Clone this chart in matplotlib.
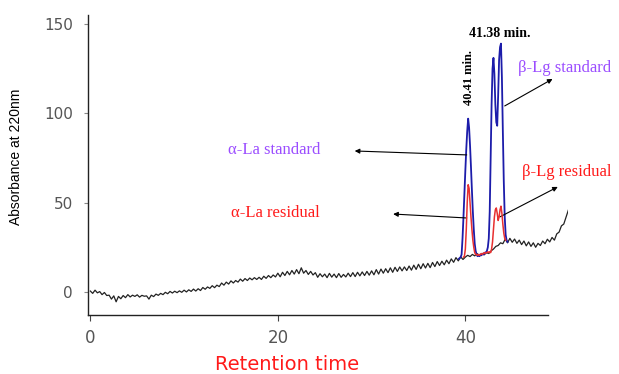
import numpy as np
import matplotlib
matplotlib.use('Agg')
import matplotlib.pyplot as plt

# ── DATA ─────────────────────────────────────────────────
# baseline trace, 0 → 51 min every 0.25 min
base_t = np.linspace(0, 51, 205)
base_y = [
    0.5, -0.8, 1.0, -0.5, 0.2, -1.5, -0.3, -2.0,
    -1.8, -4.0, -2.2, -5.5, -2.5, -3.8, -2.0, -3.2,
    -1.5, -2.8, -1.8, -2.5, -1.6, -2.9, -1.9, -2.4,
    -2.2, -4.0, -1.8, -2.6, -1.2, -1.9, -0.8, -1.5,
    -0.2, -1.0, 0.3, -0.6, 0.4, -0.4, 0.6, -0.2,
    1.0, 0.0, 1.2, 0.3, 1.6, 0.5, 1.8, 0.8,
    2.5, 1.5, 2.8, 2.0, 3.5, 2.4, 3.8, 3.0,
    5.0, 3.8, 5.5, 4.4, 6.2, 5.0, 6.4, 5.5,
    7.2, 6.0, 7.5, 6.4, 7.8, 6.8, 8.0, 7.0,
    8.2, 7.0, 8.8, 7.6, 9.2, 8.0, 9.5, 8.4,
    10.5, 8.5, 11.0, 9.2, 11.5, 9.6, 12.0, 10.0,
    12.5, 10.2, 13.5, 10.5, 12.0, 9.8, 11.5, 9.5,
    10.8, 8.2, 10.2, 8.5, 10.0, 8.0, 10.4, 8.3,
    10.0, 8.0, 10.3, 8.2, 9.8, 8.4, 10.5, 8.6,
    10.8, 8.6, 11.0, 9.0, 11.2, 9.2, 11.5, 9.4,
    11.8, 9.6, 12.5, 10.0, 12.8, 10.5, 13.0, 10.8,
    13.5, 11.0, 13.8, 11.5, 14.0, 11.8, 14.0, 12.0,
    14.5, 12.2, 15.0, 12.6, 15.5, 13.0, 15.8, 13.4,
    16.0, 13.6, 16.5, 14.2, 17.0, 14.8, 17.2, 15.2,
    17.8, 15.8, 18.5, 16.6, 19.2, 17.4, 19.6, 18.2,
    19.5, 20.5, 19.8, 21.0, 20.2, 21.5, 20.0, 21.2,
    20.8, 22.0, 21.5, 23.0, 24.0, 25.5, 26.0, 27.5,
    27.0, 29.5, 27.5, 30.0, 27.8, 29.6, 27.2, 29.0,
    26.5, 28.5, 25.8, 28.0, 25.5, 27.5, 25.0, 27.2,
    26.0, 28.5, 27.0, 29.5, 28.0, 30.5, 29.0, 32.5,
    33.5, 37.0, 38.0, 42.0, 46.0,
]

# standards (blue), 39.3 → 44.5 min every 0.1 min
std_t = np.linspace(39.3, 44.5, 53)
std_y = [
    18.5, 19, 19.5, 21, 30, 42, 55, 68, 80, 90,
    97, 92, 82, 70, 57, 45, 35, 27, 23, 21,
    20, 20.5, 20, 21, 20.5, 21, 21.5, 21, 22, 22,
    23, 25, 30, 45, 75, 105, 125, 131, 122, 105,
    95, 93, 110, 130, 137, 139, 120, 90, 62, 42,
    32, 29, 28,
]

# residuals (red), 39.8 → 44.3 min every 0.1 min
res_t = np.linspace(39.8, 44.3, 46)
res_y = [
    19.5, 20, 24, 35, 50, 60, 58, 50, 42, 35,
    29, 25, 22, 21, 21, 20.5, 21, 20.5, 21, 21.5,
    21, 21.5, 22, 21.5, 22, 22, 22.5, 22, 22.5, 22,
    24, 28, 35, 42, 46, 47, 44, 40, 42, 46,
    48, 44, 38, 33, 30, 29,
]

y_ticks = [0, 50, 100, 150]
x_ticks = [0, 20, 40]

PURPLE = '#9b4dff'
RED = '#ff1a1a'

fig = plt.figure(figsize=(6.19, 3.74), dpi=100, facecolor='white')
ax = fig.add_axes([88 / 619, 1 - 315 / 374, 480 / 619, 300 / 374])
ax.set_facecolor('white')

ax.plot(base_t, base_y, color='#222222', lw=0.9, zorder=2)
ax.plot(std_t, std_y, color='#1c1caa', lw=1.3, zorder=3)
ax.plot(res_t, res_y, color='#e83030', lw=1.1, zorder=4)

ax.set_xlim(-0.25, 50.95)
ax.set_ylim(-12.9, 155)

for s in ['top', 'right']:
    ax.spines[s].set_visible(False)
ax.spines['bottom'].set_bounds(-0.25, 48.8)
for s in ['left', 'bottom']:
    ax.spines[s].set_color('#222222')
    ax.spines[s].set_linewidth(1.0)

ax.set_xticks(x_ticks)
ax.set_yticks(y_ticks)
ax.tick_params(axis='y', length=3, width=0.8, color='#888888', pad=8,
               labelsize=11, labelcolor='#555555')
ax.tick_params(axis='x', length=4, width=0.8, color='#444444', pad=6,
               labelsize=12, labelcolor='#555555')

ax.set_ylabel('Absorbance at 220nm', fontsize=10,
              family=['Liberation Sans Narrow', 'Liberation Sans'])
ax.yaxis.set_label_coords(-0.135, 0.527)
fig.text(287 / 619, 4 / 374, 'Retention time', fontsize=14, color=RED,
         ha='center', va='baseline')

serif = 'Liberation Serif'
ax.text(43.67, 144.9, '41.38 min.', fontsize=10, fontweight='bold',
        family=serif, ha='center', va='center', clip_on=False)
ax.text(40.37, 119.8, '40.41 min.', fontsize=9, fontweight='bold',
        family=serif, ha='center', va='center', rotation=90)

ax.text(45.6, 125.3, '\u03b2-Lg standard', fontsize=12, color=PURPLE,
        family=serif, ha='left', va='center', clip_on=False)
ax.text(46.0, 67.2, '\u03b2-Lg residual', fontsize=12, color=RED,
        family=serif, ha='left', va='center', clip_on=False)
ax.text(14.7, 79.5, '\u03b1-La standard', fontsize=12, color=PURPLE,
        family=serif, ha='left', va='center')
ax.text(15.0, 44.2, '\u03b1-La residual', fontsize=12, color=RED,
        family=serif, ha='left', va='center')

arrow = dict(arrowstyle='-|>', lw=0.8, color='black', mutation_scale=7,
             shrinkA=0, shrinkB=0)
for head, tail in [((28.2, 78.9), (40.15, 76.7)),
                   ((32.3, 43.6), (40.15, 41.4)),
                   ((49.3, 119.2), (44.2, 104.1)),
                   ((49.86, 58.8), (43.68, 42.0))]:
    ax.annotate('', xy=head, xytext=tail, arrowprops=arrow,
                annotation_clip=False)

fig.savefig('out.png', dpi=100, facecolor='white')
